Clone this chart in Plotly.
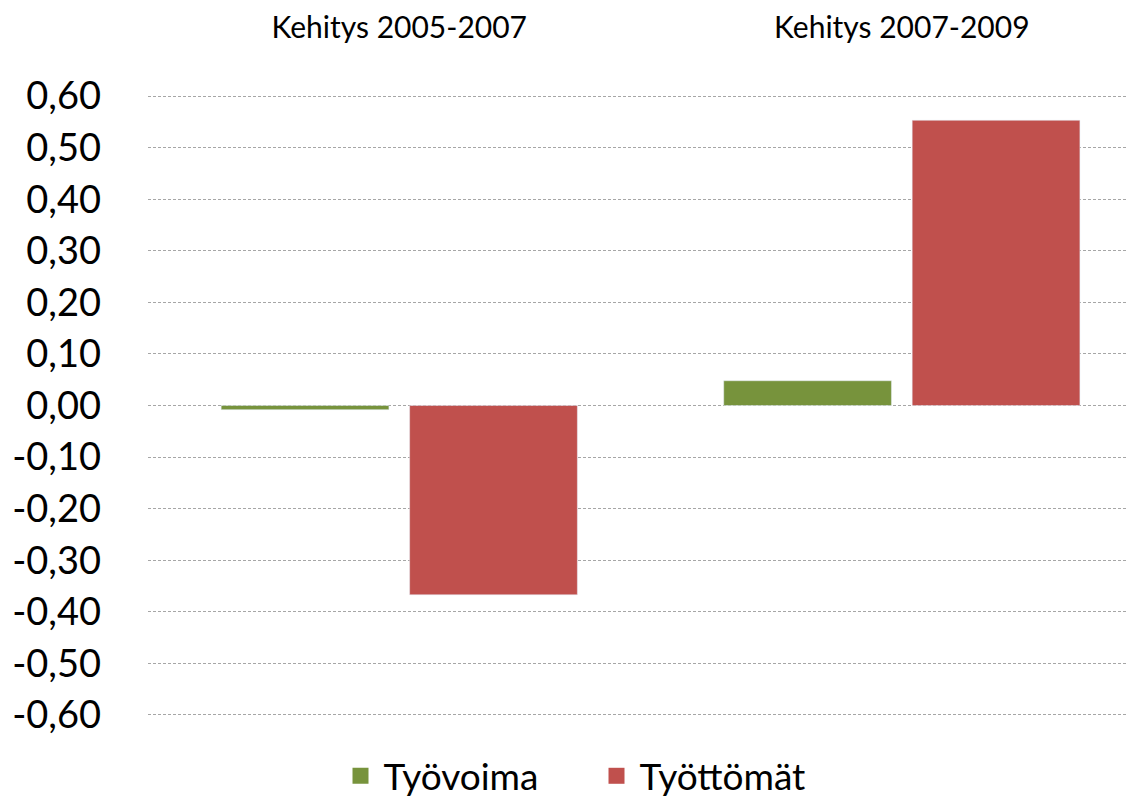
import plotly.graph_objects as go

categories = ["Kehitys 2005-2007", "Kehitys 2007-2009"]
tyovoima = [-0.008, 0.048]
tyottomat = [-0.367, 0.553]
tick_vals = [0.6, 0.5, 0.4, 0.3, 0.2, 0.1, 0.0, -0.1, -0.2, -0.3, -0.4, -0.5, -0.6]
tick_text = ["0,60", "0,50", "0,40", "0,30", "0,20", "0,10", "0,00",
             "-0,10", "-0,20", "-0,30", "-0,40", "-0,50", "-0,60"]
series_names = ["Työvoima", "Työttömät"]
series_colors = ["#77933C", "#C0504D"]

fig = go.Figure()
for name, vals, col in zip(series_names, [tyovoima, tyottomat], series_colors):
    fig.add_trace(go.Bar(name=name, x=categories, y=vals, marker_color=col,
                         showlegend=False))
# legend entries with larger square swatches
for name, col in zip(series_names, series_colors):
    fig.add_trace(go.Scatter(name=name, x=[None], y=[None], mode="markers",
                             marker=dict(symbol="square", size=20, color=col),
                             showlegend=True))

fig.update_layout(
    width=1127, height=789,
    margin=dict(l=140, r=0, t=87, b=81, autoexpand=False),
    paper_bgcolor="white", plot_bgcolor="white",
    barmode="group", bargap=0.25, bargroupgap=0.11,
    font=dict(family="Lato, sans-serif", color="black"),
    showlegend=True,
    legend=dict(orientation="h", xref="paper", yref="paper",
                x=0.192, xanchor="left", y=-0.097, yanchor="middle",
                font=dict(size=37), itemwidth=36, entrywidth=205,
                tracegroupgap=0),
    xaxis=dict(side="top", range=[-0.5, 1.464], showgrid=False, showline=False,
               ticks="", tickfont=dict(size=30), ticklabelstandoff=50, automargin=False),
    yaxis=dict(range=[-0.602, 0.602], tickvals=tick_vals, ticktext=tick_text,
               tickfont=dict(size=38), showgrid=True, gridcolor="#A6A6A6",
               griddash="3px,2px", gridwidth=1, zeroline=False, showline=False,
               ticks="", ticklabelstandoff=46, automargin=False),
)

fig.write_html("out.html")
